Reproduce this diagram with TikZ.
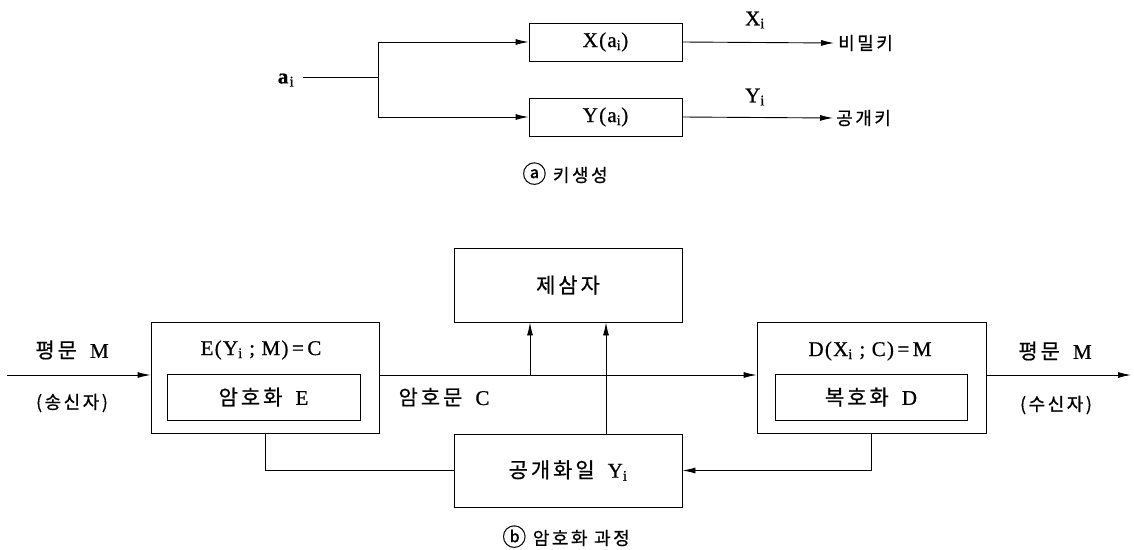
\documentclass[tikz,border=0pt]{standalone}
\usepackage{fontspec}
\setmainfont{Liberation Serif}[LetterSpace=6,FakeBold=0.7]
\newfontfamily\kr{Noto Sans CJK KR}[LetterSpace=14,FakeBold=0.6]
\usetikzlibrary{arrows.meta}
\newcommand\ssi{\textsubscript{i}}
\newcommand\circl[1]{\smash{\raisebox{-1pt}{\fontsize{24}{24}\selectfont #1}}}
\begin{document}
\begin{tikzpicture}[x=1pt,y=-1pt,
  every node/.style={font=\fontsize{21}{24}\selectfont, inner sep=0pt},
  box/.style={draw, line width=0.9pt, rectangle, minimum height=38pt, minimum width=153pt},
  lin/.style={line width=0.9pt},
  arr/.style={lin, -{Latex[length=13pt,width=6pt]}},
  ko/.style={font=\fontsize{18}{21}\selectfont\kr}]
\useasboundingbox (0,0) rectangle (1134,549);
% ---- key generation ----
\node (ai) at (286,80) {\textbf{a}\ssi};
\coordinate (ai0) at (303,77);
\coordinate (br) at (378,77);
\node[box] (xb) at (605.5,42) {X(a\ssi)};
\node[box] (yb) at (605.5,117) {Y(a\ssi)};
\node[ko, anchor=west] (sk) at (838,43) {비밀키};
\node[ko, anchor=west] (pk) at (836,118) {공개키};
\node (xi) at (755,20) {X\ssi};
\node (yi) at (755,97) {Y\ssi};
\draw[lin] (ai0) -- (br);
\draw[arr] (br) |- (xb.west);
\draw[arr] (br) |- (yb.west);
\draw[arr] (xb.east) -- ([xshift=-4pt]sk.west);
\draw[arr] (yb.east) -- ([xshift=-3pt]pk.west);
\node[ko] (capa) at (565,175) {\circl{ⓐ} 키생성};
% ---- encryption process ----
\coordinate (m) at (0,375);
\node[box, minimum width=228pt, minimum height=111pt] (eb) at (265,377.5) {};
\node[box, minimum width=193pt, minimum height=46pt] (ei) at (263.5,397) {{\kr 암호화}\ \ E};
\node (et) at (261,350) {E(Y\ssi\ ;\ M)\,=\,C};
\node[box, minimum width=229pt, minimum height=111pt] (db) at (871.5,377.5) {};
\node[box, minimum width=192pt, minimum height=46pt] (di) at (871,397) {{\kr 복호화}\ \ D};
\node (dt) at (870,351) {D(X\ssi\ ;\ C)\,=\,M};
\node[box, minimum width=228pt, minimum height=74pt] (tp) at (568,285) {\kr 제삼자};
\node[box, minimum width=228pt, minimum height=73pt] (pf) at (568,470.5) {{\kr 공개화일}\ \ Y\ssi};
\node (pm1) at (72,350) {{\kr 평문}\ \ M};
\node[ko] (snd) at (72,403) {(송신자)};
\node (pm2) at (1055,351) {{\kr 평문}\ \ M};
\node[ko] (rcv) at (1056,405) {(수신자)};
\node (ct) at (444,397) {{\kr 암호문}\ \ C};
\coordinate (in) at (7,375);
\coordinate (out) at (1131,375);
\coordinate (t1) at (530,375);
\coordinate (t2) at (606,434);
\draw[arr] (in) -- (in -| eb.west);
\draw[arr] (eb.east |- m) -- (db.west |- m);
\draw[arr] (t1) -- (t1 |- tp.south);
\draw[arr] (t2) -- (t2 |- tp.south);
\draw[lin] (eb.south) |- (pf.west);
\draw[arr] (db.south) |- (pf.east);
\draw[arr] (db.east |- m) -- (out);
\node[ko] (capb) at (566,538) {\circl{ⓑ} 암호화 과정};
\end{tikzpicture}
\end{document}
